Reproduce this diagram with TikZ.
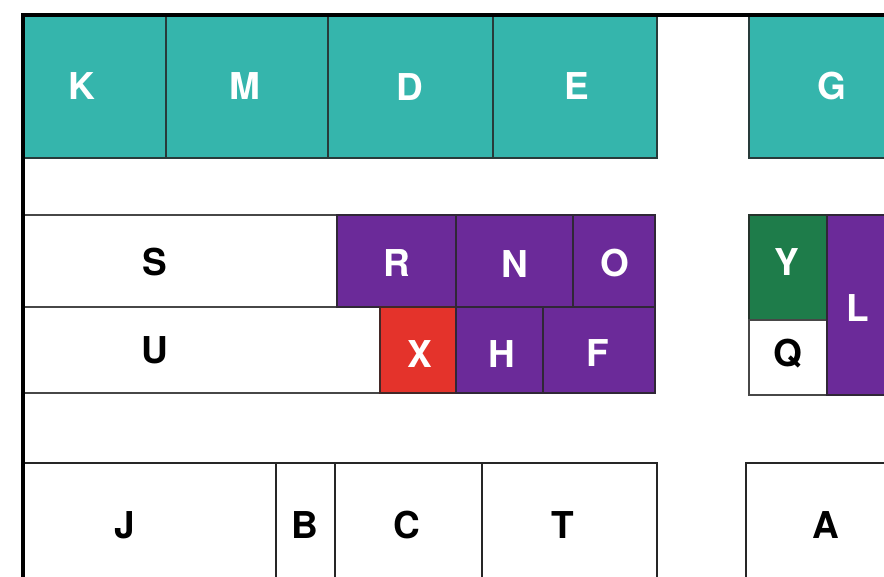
\documentclass[tikz,border=0pt]{standalone}
\usepackage{fontspec}
\setsansfont{TeX Gyre Heros}
\definecolor{Teal}{HTML}{35B5AC}
\definecolor{Plum}{HTML}{6B2A99}
\definecolor{Flag}{HTML}{E4332B}
\definecolor{Moss}{HTML}{1E7C4A}
\definecolor{Ink}{HTML}{262626}

\begin{document}
\begin{tikzpicture}[x=1pt,y=-1pt,
  lbl/.style={font=\sffamily\bfseries\fontsize{37}{40}\selectfont,inner sep=0pt}]
\useasboundingbox (0,0) rectangle (884,576);
\fill[white] (0,0) rectangle (884,576);
% top row
\foreach \a/\b in {23/166,166/328,328/493,493/657,749/892} \filldraw[fill=Teal,draw=Ink!85!Teal,line width=2.2pt] (\a,15) rectangle (\b,158);
% middle rows
\foreach \a/\b/\c/\d/\f in {23/337/215/307/white,23/380/307/393/white,337/456/215/307/Plum,456/573/215/307/Plum,573/655/215/307/Plum,380/456/307/393/Flag,456/543/307/393/Plum,543/655/307/393/Plum,749/827/215/320/Moss,749/827/320/395/white,827/892/215/395/Plum} \filldraw[fill=\f,draw=Ink!85!\f,line width=2pt] (\a,\c) rectangle (\b,\d);
% bottom row
\foreach \a/\b in {23/276,276/335,335/482,482/657,746/892} \draw[Ink,line width=2pt] (\a,582) -- (\a,463) -- (\b,463) -- (\b,582);
% frame
\draw[black,line width=3.2pt] (23,582) -- (23,15) -- (892,15);
% labels
\foreach \n/\x/\y in {K/82/86,M/245/86,D/410/87,E/577/86,G/832/86,R/397/263,N/515/264,O/615/263,X/420/354,H/502/354,F/598/353,Y/787/262,L/858/308} \node[lbl,text=white] (\n) at (\x,\y) {\n};
\foreach \n/\x/\y in {S/155/262,U/155/350,Q/788/354,J/125/525,B/305/525,C/407/525,T/563/525,A/826/525} \node[lbl,text=black] (\n) at (\x,\y) {\n};
\end{tikzpicture}
\end{document}
